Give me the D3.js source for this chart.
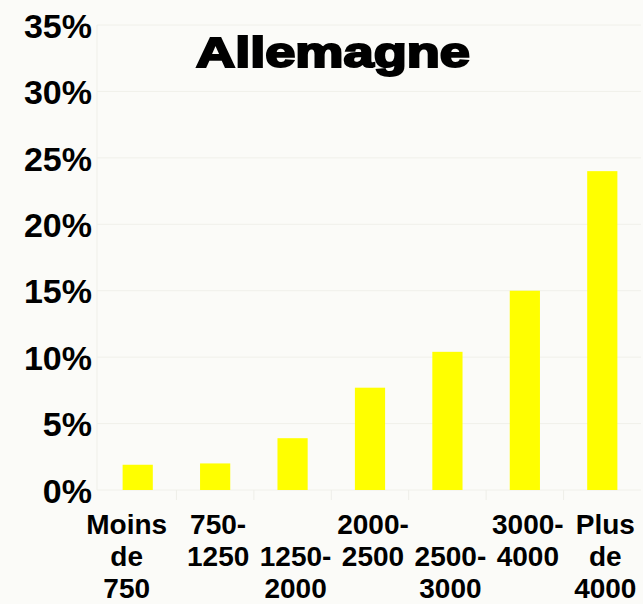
<!DOCTYPE html>
<html>
<head>
<meta charset="utf-8">
<script src="https://cdn.jsdelivr.net/npm/d3@7"></script>
<style>
  html, body { margin: 0; padding: 0; background: #fbfbf8; }
  svg { display: block; font-family: "Liberation Sans", Arial, sans-serif; }
</style>
</head>
<body>
<div id="chart"></div>
<script>
// categories: each label split into its lines (leading "" = starts on the 2nd line)
const categories = ["Moins de 750", "750-1250", "1250-2000", "2000-2500", "2500-3000", "3000-4000", "Plus de 4000"];
const labelLines = [
  ["Moins", "de", "750"],
  ["750-", "1250"],
  ["", "1250-", "2000"],
  ["2000-", "2500"],
  ["", "2500-", "3000"],
  ["3000-", "4000"],
  ["Plus", "de", "4000"]
];
const values = [1.9, 2.0, 3.9, 7.7, 10.4, 15.0, 24.0];
const yTicks = [0, 5, 10, 15, 20, 25, 30, 35];
const title = "Allemagne";

const width = 643, height = 604;
const margin = {top: 25, right: 2, bottom: 114, left: 99};

const svg = d3.select('#chart').append('svg')
  .attr('width', width)
  .attr('height', height);

svg.append('rect')
  .attr('width', width).attr('height', height)
  .attr('fill', '#fbfbf8');

const x = d3.scaleBand()
  .domain(categories)
  .range([margin.left, width - margin.right])
  .paddingInner(0.61)
  .paddingOuter(0.305);

const y = d3.scaleLinear()
  .domain([0, 35])
  .range([height - margin.bottom, margin.top]);

// faint grid
svg.append('g')
  .selectAll('line')
  .data(yTicks)
  .join('line')
    .attr('x1', margin.left - 2)
    .attr('x2', width - margin.right)
    .attr('y1', d => y(d))
    .attr('y2', d => y(d))
    .attr('stroke', '#f0f0ea')
    .attr('stroke-width', 1);

svg.append('line')
  .attr('x1', margin.left - 2).attr('x2', margin.left - 2)
  .attr('y1', y(35)).attr('y2', y(0))
  .attr('stroke', '#efefe9');

// category tick marks below the baseline
const step = x.step();
svg.append('g')
  .selectAll('line')
  .data(categories.slice(1))
  .join('line')
    .attr('x1', d => x(d) - step * 0.305)
    .attr('x2', d => x(d) - step * 0.305)
    .attr('y1', y(0))
    .attr('y2', y(0) + 10)
    .attr('stroke', '#eeeee8');

// bars
svg.append('g')
  .selectAll('rect')
  .data(values)
  .join('rect')
    .attr('x', (d, i) => x(categories[i]))
    .attr('width', x.bandwidth())
    .attr('y', d => y(d))
    .attr('height', d => y(0) - y(d))
    .attr('fill', '#ffff00');

// y axis labels
const yAxis = svg.append('g')
  .attr('transform', `translate(${margin.left - 7},0)`)
  .call(d3.axisLeft(y).tickValues(yTicks).tickSize(0).tickFormat(d => d + '%'));
yAxis.select('.domain').remove();
yAxis.selectAll('text')
  .attr('font-family', '"Liberation Sans", Arial, sans-serif')
  .attr('font-size', 34)
  .attr('font-weight', 'bold')
  .attr('fill', '#000')
  .attr('dy', '0.36em')
  .attr('x', 0);

// x labels (the first one sits a bit left of its bar, as in the original)
const xl = svg.append('g');
labelLines.forEach((lines, i) => {
  const cx = x(categories[i]) + x.bandwidth() / 2 + (i === 0 ? -11 : 3);
  const t = xl.append('text')
    .attr('text-anchor', 'middle')
    .attr('font-size', 28)
    .attr('font-weight', 'bold')
    .attr('fill', '#000');
  lines.forEach((s, j) => {
    t.append('tspan')
      .attr('x', cx)
      .attr('y', y(0) + 44 + j * 32)
      .text(s);
  });
});

// title
svg.append('text')
  .attr('x', 333)
  .attr('y', 67)
  .attr('text-anchor', 'middle')
  .attr('font-size', 43)
  .attr('font-weight', 'bold')
  .attr('stroke', '#000')
  .attr('stroke-width', 2.2)
  .attr('textLength', 274)
  .attr('lengthAdjust', 'spacingAndGlyphs')
  .text(title);
</script>
</body>
</html>
